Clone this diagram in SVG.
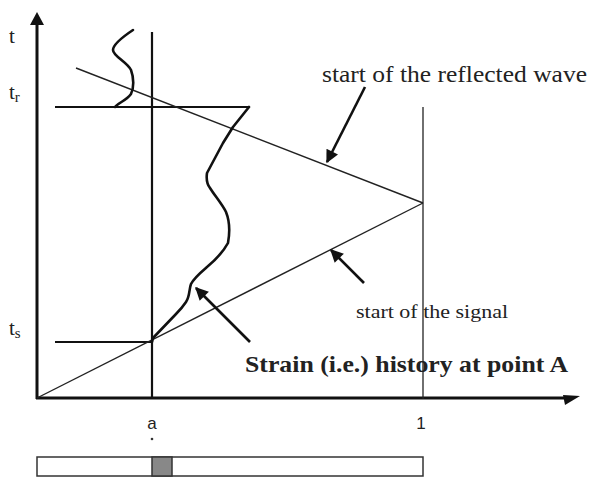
<svg xmlns="http://www.w3.org/2000/svg" width="593" height="478" viewBox="0 0 593 478">
<style>
.ax{stroke:#111;stroke-width:3;fill:none}
.thick{stroke:#111;stroke-width:2.2;fill:none}
.thin{stroke:#222;stroke-width:1.3;fill:none}
.wave{stroke:#222;stroke-width:1.4;fill:none}
.curve{stroke:#111;stroke-width:2.6;fill:none;stroke-linejoin:round;stroke-linecap:round}
.ptr{stroke:#111;stroke-width:2.6;fill:none}
.serif{font-family:"Liberation Serif","Times New Roman",serif;fill:#222}
.sans{font-family:"Liberation Sans",Arial,sans-serif;fill:#222}
</style>
<defs>
<marker id="ah" viewBox="0 0 10 10" refX="9" refY="5" markerWidth="5.5" markerHeight="5" orient="auto" markerUnits="strokeWidth">
<path d="M0,0 L10,5 L0,10 z" fill="#111"/>
</marker>
</defs>
<rect width="593" height="478" fill="#fff"/>
<g id="axes">
<line class="ax" x1="37" y1="22" x2="37" y2="399"/>
<polygon points="37,12 30,25 44,25" fill="#111"/>
<line class="ax" x1="36" y1="398" x2="566" y2="398"/>
<polygon points="580,396 563,395 565,405" fill="#111"/>
</g>
<g id="lines">
<line class="thick" x1="152" y1="32" x2="152" y2="399"/>
<line class="thin" x1="423" y1="107" x2="423" y2="399"/>
<line class="thick" x1="55" y1="107" x2="249" y2="107"/>
<line class="thick" x1="55" y1="342" x2="152" y2="342"/>
</g>
<g id="waves">
<line class="wave" x1="37" y1="398" x2="423" y2="203"/>
<line class="wave" x1="423" y1="203" x2="76" y2="68"/>
</g>
<g id="strain-curve">
<path class="curve" d="M133,30 C124,36 113,44 113,50 C113,56 127,62 131,70 C134,78 134,88 131,94 C127,100 118,103 115,107"/>
<path class="curve" d="M249,107 L233,127 L223,143 L207,173 C206,180 207,184 210,188 C215,196 222,204 226,212 C230,222 230,232 228,243 C222,254 213,262 207,267 C200,273 194,278 191,284 C189,289 190,296 186,302 C182,308 180,310 176,314 L153,338 L152,342"/>
</g>
<g id="connectors">
<line class="ptr" x1="365" y1="87" x2="327" y2="162" marker-end="url(#ah)"/>
<line class="ptr" x1="364" y1="283" x2="331" y2="250" marker-end="url(#ah)"/>
<line class="ptr" x1="250" y1="342" x2="196" y2="288" marker-end="url(#ah)"/>
</g>
<g id="labels">
<text class="serif" x="9" y="43" font-size="21">t</text>
<text class="serif" x="9" y="99" font-size="21">t<tspan font-size="15" dy="3">r</tspan></text>
<text class="serif" x="9" y="335" font-size="21">t<tspan font-size="15" dy="3">s</tspan></text>
<text class="sans" x="152" y="429" font-size="17" text-anchor="middle">a</text>
<circle cx="152" cy="439" r="1.3" fill="#333"/>
<text class="sans" x="421" y="429" font-size="17" text-anchor="middle">1</text>
<text class="serif" x="322" y="82" font-size="23" textLength="265" lengthAdjust="spacingAndGlyphs">start of the reflected wave</text>
<text class="serif" x="356" y="318" font-size="19" textLength="152" lengthAdjust="spacingAndGlyphs">start of the signal</text>
<text class="serif" x="245" y="372" font-size="24" font-weight="bold" textLength="323" lengthAdjust="spacingAndGlyphs">Strain (i.e.) history at point A</text>
</g>
<g id="bar">
<rect x="37" y="457" width="386" height="19" fill="#fff" stroke="#333" stroke-width="1.5"/>
<rect x="152" y="457" width="20" height="19" fill="#888" stroke="#333" stroke-width="1.5"/>
</g>
</svg>
